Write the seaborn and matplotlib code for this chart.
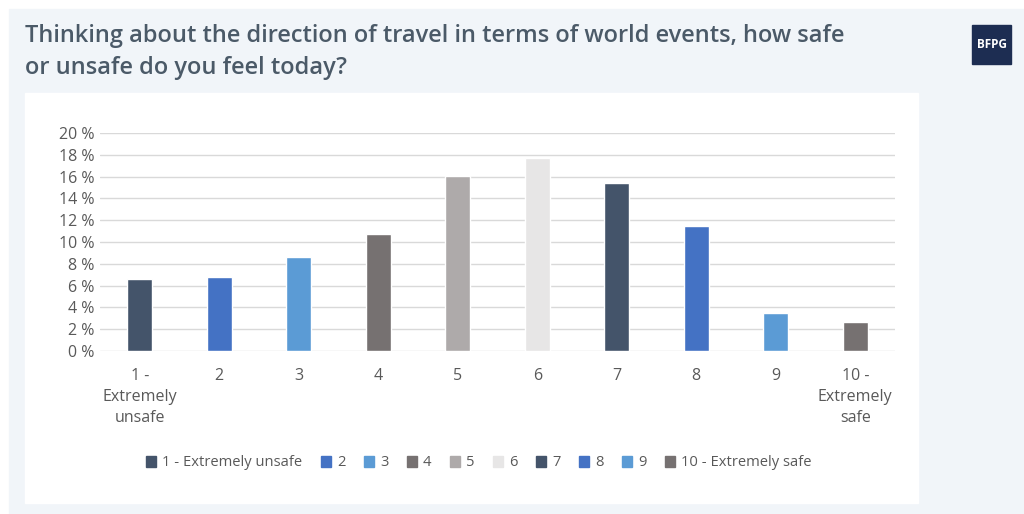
import pandas as pd
import matplotlib.pyplot as plt
import matplotlib.patches as mpatches
import seaborn as sns
from matplotlib.ticker import FuncFormatter

# values
categories = ["1 - Extremely unsafe", "2", "3", "4", "5", "6", "7", "8", "9", "10 - Extremely safe"]
tick_labels = ["1 -\nExtremely\nunsafe", "2", "3", "4", "5", "6", "7", "8", "9", "10 -\nExtremely\nsafe"]
shares = [6.6, 6.8, 8.6, 10.7, 16.1, 17.7, 15.4, 11.5, 3.5, 2.7]
colors = ["#44546a", "#4472c4", "#5b9bd5", "#767171", "#aeaaaa",
          "#e7e6e6", "#44546a", "#4472c4", "#5b9bd5", "#767171"]

df = pd.DataFrame({"category": categories, "share": shares})

sns.set_theme(style="white")
plt.rcParams["font.family"] = ["Open Sans", "DejaVu Sans"]

W, H = 1024, 514
fig = plt.figure(figsize=(W / 100, H / 100), dpi=100)
fig.patch.set_facecolor("white")

# light backdrop and white chart panel
fig.add_artist(mpatches.Rectangle((9 / W, 0), 1 - 9 / W, 1 - 9 / H,
                                  transform=fig.transFigure, color="#f1f5f9", zorder=0))
fig.add_artist(mpatches.Rectangle((25 / W, 1 - 503 / H), (918 - 25) / W, (503 - 93) / H,
                                  transform=fig.transFigure, color="white", zorder=0))

ax = fig.add_axes([100 / W, 1 - 351 / H, (895 - 100) / W, (351 - 133) / H])
ax.set_facecolor("none")
sns.barplot(data=df, x="category", y="share", hue="category", palette=colors,
            saturation=1, width=0.315, legend=False, ax=ax, zorder=3)

ax.set_ylim(0, 20)
ax.set_yticks(range(0, 21, 2))
ax.yaxis.set_major_formatter(FuncFormatter(lambda v, _: f"{v:.0f} %"))
ax.grid(axis="y", color="#d9d9d9", linewidth=1, zorder=0)
ax.set_xlim(-0.5, len(categories) - 0.5)
ax.set_xticks(range(len(categories)))
ax.set_xticklabels(tick_labels, linespacing=1.45)
for s in ax.spines.values():
    s.set_visible(False)
ax.tick_params(axis="both", length=0, labelsize=11.5, colors="#595959")
ax.tick_params(axis="x", pad=12)
ax.tick_params(axis="y", pad=4)
ax.set_xlabel("")
ax.set_ylabel("")

handles = [mpatches.Patch(color=c, label=l) for c, l in zip(colors, categories)]
fig.legend(handles=handles, loc="center", bbox_to_anchor=(479 / W, 1 - 463 / H),
           ncol=10, frameon=False, fontsize=10.6, handlelength=0.7, handleheight=0.7,
           handletextpad=0.4, columnspacing=1.25, labelcolor="#595959")

fig.text(25 / W, 1 - 52 / H, "Thinking about the direction of travel in terms of world events, how safe\nor unsafe do you feel today?",
         fontsize=17, fontweight="semibold", color="#4b5a68", va="center", linespacing=1.45)

# BFPG badge
fig.add_artist(mpatches.Rectangle((972 / W, 1 - 64 / H), 39 / W, 39 / H,
                                  transform=fig.transFigure, color="#1d2d52", zorder=2))
fig.text(991.5 / W, 1 - 44.5 / H, "BFPG", fontsize=8.5, fontweight="bold",
         color="white", ha="center", va="center", zorder=3)

fig.savefig("out.png", dpi=100)
